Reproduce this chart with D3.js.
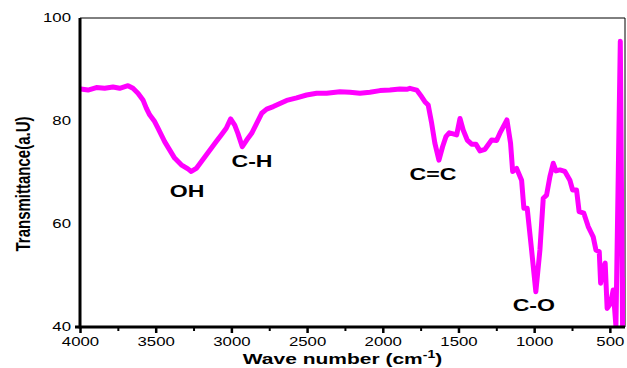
<!DOCTYPE html>
<html>
<head>
<meta charset="utf-8">
<script type="text/javascript" src="https://cdn.jsdelivr.net/npm/d3@7"></script>
<style>
  body { margin: 0; background: #ffffff; }
  text { font-family: "Liberation Sans", Arial, sans-serif; fill: #000000; }
</style>
<script type="text/javascript">
// spectrum (wave number cm-1, transmittance)
var waveNumber = [3995,3947,3892,3837,3782,3738,3683,3650,3617,3584,3562,3540,3507,3485,3463,3441,3408,3375,3331,3287,
  3265,3232,3199,3166,3133,3100,3067,3034,3005,2978,2957,2928,2899,2866,2833,2800,2767,2723,2679,2635,
  2569,2503,2437,2371,2283,2217,2151,2085,2019,1953,1887,1842,1821,1776,1743,1722,1700,1677,1656,1629,
  1605,1583,1561,1535,1512,1490,1469,1442,1413,1385,1358,1325,1281,1248,1222,1180,1156,1142,1116,1083,
  1068,1046,1017,989,962,940,918,896,874,856,830,797,764,746,720,703,672,643,625,610,
  592,570,561,544,531,518,495,478,460,431,416,401]
var transmittance = [86.2,86.0,86.5,86.35,86.6,86.35,86.85,86.35,85.4,84.1,82.5,81.2,79.9,78.6,77.3,76.0,74.4,72.8,71.5,70.7,
  70.2,70.8,72.1,73.4,74.7,76.0,77.3,78.6,80.4,79.2,77.6,75.0,76.3,77.6,79.55,81.5,82.3,82.8,83.4,84.0,
  84.5,85.05,85.4,85.4,85.7,85.6,85.4,85.6,85.9,86.0,86.2,86.15,86.35,86.0,84.7,83.75,83.1,79.55,75.7,72.4,
  75.0,76.95,77.7,77.5,77.3,80.5,78.25,76.3,75.5,75.5,74.2,74.5,76.3,76.2,77.9,80.2,75.7,70.2,70.8,68.5,
  63.05,63.05,54.95,46.85,54.95,65.0,65.6,69.2,71.8,70.3,70.5,70.2,68.5,66.6,66.6,62.4,62.1,59.5,58.4,57.5,
  54.95,54.6,48.5,51.4,52.4,43.6,44.6,47.2,40.2,95.5,40.2,49.1]

var xMajorTicks = [4000,3500,3000,2500,2000,1500,1000,500]
var xMinorTicks = [3750,3250,2750,2250,1750,1250,750]
var yTicks = [40,60,80,100]
// band labels, placed at (wave number, transmittance) of their baseline centre
var bandNames = ["OH","C-H","C=C","C-O"]
var bandWave = [3293,2864,1669,1002]
var bandT = [65.3,71.1,68.5,43.1]

function drawChart(){
  var width = 627, height = 368
  var left = 80, right = 625, top = 18, bottom = 327
  var stretch = 1.4   // the picture is widened, text included

  var svg = d3.select("body").append("svg")
    .attr("width", width)
    .attr("height", height)

  var x = d3.scaleLinear().domain([4000, 400]).range([left, right])
  var y = d3.scaleLinear().domain([40, 100]).range([bottom, top])

  svg.append("clipPath").attr("id", "plotClip")
    .append("rect")
    .attr("x", left).attr("y", top - 2)
    .attr("width", right - left).attr("height", bottom - top + 2)

  // thin frame on top and right
  svg.append("line")
    .attr("x1", left).attr("x2", right).attr("y1", top).attr("y2", top)
    .attr("stroke", "#000").attr("stroke-width", 1)
  svg.append("line")
    .attr("x1", right).attr("x2", right).attr("y1", top).attr("y2", bottom)
    .attr("stroke", "#000").attr("stroke-width", 1)

  // spectrum
  var pts = waveNumber.map(function(w, i){ return [w, transmittance[i]] })
  var line = d3.line()
    .x(function(d){ return x(d[0]) })
    .y(function(d){ return y(d[1]) })
  svg.append("path")
    .datum(pts)
    .attr("clip-path", "url(#plotClip)")
    .attr("d", line)
    .attr("fill", "none")
    .attr("stroke", "#ff00ff")
    .attr("stroke-width", 5)
    .attr("stroke-linejoin", "round")
    .attr("stroke-linecap", "round")

  // x axis
  var xMinor = svg.append("g")
    .attr("transform", "translate(0," + bottom + ")")
    .call(d3.axisBottom(x).tickValues(xMinorTicks).tickSize(4).tickFormat(""))
  xMinor.select(".domain").remove()
  xMinor.selectAll("line").attr("stroke-width", 2)

  var xAxis = svg.append("g")
    .attr("transform", "translate(0," + bottom + ")")
    .call(d3.axisBottom(x).tickValues(xMajorTicks).tickSize(6).tickPadding(4).tickFormat(d3.format("d")))
  xAxis.select(".domain").remove()
  xAxis.selectAll("line").attr("stroke-width", 2.5)
  xAxis.selectAll("text")
    .attr("font-size", 12)
    .attr("font-family", "'Liberation Sans', Arial, sans-serif")
    .attr("transform", "scale(" + stretch + ",1)")

  svg.append("line")
    .attr("x1", left - 5).attr("x2", right).attr("y1", bottom).attr("y2", bottom)
    .attr("stroke", "#000").attr("stroke-width", 3)

  // y axis
  var yAxis = svg.append("g")
    .attr("transform", "translate(" + left + ",0)")
    .call(d3.axisLeft(y).tickValues(yTicks).tickSize(0).tickPadding(9))
  yAxis.select(".domain").remove()
  yAxis.selectAll("text")
    .attr("font-size", 12)
    .attr("font-family", "'Liberation Sans', Arial, sans-serif")
    .attr("x", -9 / stretch)
    .attr("transform", "scale(" + stretch + ",1)")

  svg.append("line")
    .attr("x1", left).attr("x2", left).attr("y1", top).attr("y2", bottom + 1.5)
    .attr("stroke", "#000").attr("stroke-width", 3)

  // axis titles
  var xt = svg.append("text")
    .attr("transform", "translate(342.5,363.5) scale(" + stretch + ",1)")
    .attr("text-anchor", "middle")
    .attr("font-size", 15)
    .attr("font-weight", "bold")
  xt.append("tspan").text("Wave number (cm")
  xt.append("tspan").attr("font-size", 10).attr("dy", -6).text("-1")
  xt.append("tspan").attr("dy", 6).text(")")

  svg.append("text")
    .attr("transform", "translate(29.5,184) scale(" + stretch + ",1) rotate(-90)")
    .attr("text-anchor", "middle")
    .attr("font-size", 15)
    .attr("font-weight", "bold")
    .text("Transmittance(a.U)")

  // band labels
  svg.selectAll(".band")
    .data(bandNames)
    .enter().append("text")
    .attr("class", "band")
    .attr("transform", function(d, i){
      return "translate(" + x(bandWave[i]) + "," + y(bandT[i]) + ") scale(" + stretch + ",1)"
    })
    .attr("text-anchor", "middle")
    .attr("font-size", 16.5)
    .attr("font-weight", "bold")
    .text(function(d){ return d })
}
</script>
</head>
<body onload="drawChart()">
</body>
</html>
